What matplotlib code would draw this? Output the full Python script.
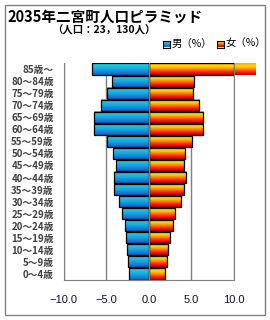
import numpy as np
import matplotlib
matplotlib.use('Agg')
import matplotlib.pyplot as plt
from matplotlib.colors import LinearSegmentedColormap
from matplotlib.patches import Rectangle

plt.rcParams['font.family'] = ['Noto Sans CJK JP', 'DejaVu Sans']

# 年齢区分（下から上へ）
ages = ['0～4歳', '5～9歳', '10～14歳', '15～19歳', '20～24歳', '25～29歳',
        '30～34歳', '35～39歳', '40～44歳', '45～49歳', '50～54歳', '55～59歳',
        '60～64歳', '65～69歳', '70～74歳', '75～79歳', '80～84歳', '85歳～']
male = [2.35, 2.47, 2.59, 2.71, 2.82, 3.18, 3.53, 4.12, 4.12, 3.88,
        4.24, 4.94, 6.42, 6.42, 5.65, 4.94, 4.35, 6.70]
female = [1.88, 2.12, 2.24, 2.47, 2.82, 3.06, 3.76, 4.12, 4.35, 4.12,
          4.24, 5.06, 6.35, 6.35, 5.88, 5.18, 5.30, 12.55]
xticks = [-10, -5, 0, 5, 10]

W, H = 270, 320
fig = plt.figure(figsize=(W / 100, H / 100), dpi=100)
fig.patch.set_facecolor('white')

# 外枠
fig.add_artist(Rectangle((5 / W, 5 / H), 260 / W, 310 / H, transform=fig.transFigure,
                         fill=False, edgecolor='#808080', lw=1))

ax = fig.add_axes([63.5 / W, 1 - 280 / H, (234 - 63.5) / W, (280 - 63) / H])

cm_m = LinearSegmentedColormap.from_list('m', ['#25d8e2', '#1aa8e0', '#1060cc'])
cm_f = LinearSegmentedColormap.from_list('f', ['#ffa800', '#ffe000', '#ff8800', '#ff2000', '#c00000'])
grad = np.linspace(0, 1, 32).reshape(-1, 1)
h = 0.92

y = np.arange(len(ages))
for i in y:
    ax.imshow(grad, extent=[-male[i], 0, i - h / 2, i + h / 2], aspect='auto',
              cmap=cm_m, zorder=2, interpolation='bilinear')
    im = ax.imshow(grad, extent=[0, female[i], i - h / 2, i + h / 2], aspect='auto',
                   cmap=cm_f, zorder=2, interpolation='bilinear')
    if female[i] > 10:
        im.set_clip_on(False)

ax.barh(y, -np.array(male), height=h, fill=False, edgecolor='black', lw=0.9, zorder=3)
ax.barh(y, np.minimum(female, 10), height=h, fill=False, edgecolor='black', lw=0.9, zorder=3)
ax.axvline(0, color='#808080', lw=1, zorder=4)

ax.set_xlim(-10, 10)
ax.set_ylim(-0.5, len(ages) - 0.5)
ax.set_xticks(xticks)
ax.set_xticklabels(['−10.0', '−5.0', '0.0', '5.0', '10.0'],
                   fontfamily='Liberation Sans', fontsize=8, color='#101030')
ax.set_yticks(y)
ax.set_yticklabels(ages, fontsize=7, fontweight='bold', color='#404040')
ax.tick_params(length=0)
ax.tick_params(axis='x', pad=11)
ax.tick_params(axis='y', pad=7)
ax.grid(axis='x', color='#808080', lw=1, zorder=0)
ax.set_axisbelow(True)
for s in ['top']:
    ax.spines[s].set_visible(False)
for s in ['left', 'bottom', 'right']:
    ax.spines[s].set_color('#808080')

# タイトル
fig.text(7 / W, 1 - 16.5 / H, '2035年二宮町人口ピラミッド', fontsize=10.5,
         fontweight='bold', va='center', ha='left')
fig.text(52 / W, 1 - 30.5 / H, '（人口：23，130人）', fontsize=7.5,
         fontweight='bold', va='center', ha='left')

# 凡例
for x0, cm, lab in [(163, cm_m, '男（%）'), (217, cm_f, '女（%）')]:
    lax = fig.add_axes([x0 / W, 1 - 47.5 / H, 7 / W, 7 / H])
    lax.imshow(grad, aspect='auto', cmap=cm)
    lax.set_xticks([])
    lax.set_yticks([])
    for s in lax.spines.values():
        s.set_color('black')
        s.set_linewidth(0.8)
    fig.text((x0 + 8.5) / W, 1 - 44 / H, lab, fontsize=7.5, va='center', ha='left')

fig.savefig('out.png', dpi=100)
